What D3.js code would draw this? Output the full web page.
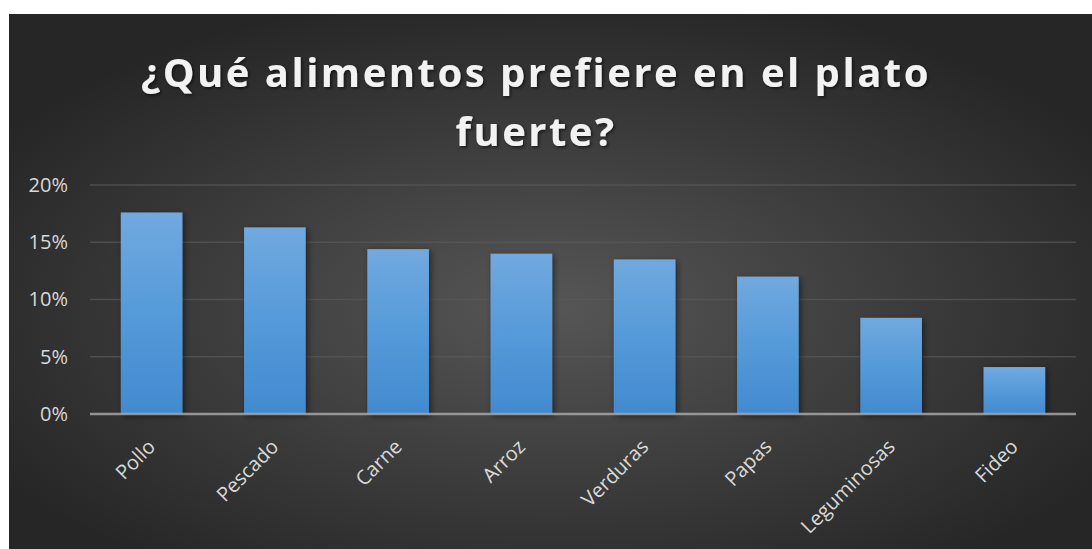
<!DOCTYPE html>
<html>
<head>
<meta charset="utf-8">
<script src="https://cdn.jsdelivr.net/npm/d3@7"></script>
<style>
  body { margin: 0; background: #fff; }
  svg { display: block; }
</style>
</head>
<body>
<div id="chart"></div>
<script>
var categories = ["Pollo", "Pescado", "Carne", "Arroz", "Verduras", "Papas", "Leguminosas", "Fideo"];
var values = [0.176, 0.163, 0.144, 0.140, 0.135, 0.120, 0.084, 0.041];
var yTicks = [0, 0.05, 0.10, 0.15, 0.20];
var titleLines = ["¿Qué alimentos prefiere en el plato", "fuerte?"];

var svgWidth = 1092;
var svgHeight = 549;

var margin = { top: 185, right: 16, bottom: 135, left: 90 };
var width = svgWidth - margin.left - margin.right;
var height = svgHeight - margin.top - margin.bottom;

var svg = d3.select("#chart")
  .append("svg")
  .attr("width", svgWidth)
  .attr("height", svgHeight);

var defs = svg.append("defs");

var bg = defs.append("radialGradient")
  .attr("id", "bg")
  .attr("cx", "50%").attr("cy", "55%").attr("r", "60%");
bg.append("stop").attr("offset", "0%").attr("stop-color", "#565656");
bg.append("stop").attr("offset", "100%").attr("stop-color", "#262626");

var barGrad = defs.append("linearGradient")
  .attr("id", "barGrad")
  .attr("x1", 0).attr("y1", 0).attr("x2", 0).attr("y2", 1);
barGrad.append("stop").attr("offset", "0%").attr("stop-color", "#71a9df");
barGrad.append("stop").attr("offset", "50%").attr("stop-color", "#559ad9");
barGrad.append("stop").attr("offset", "100%").attr("stop-color", "#428ad0");

var shadow = defs.append("filter").attr("id", "shadow")
  .attr("x", "-30%").attr("y", "-30%").attr("width", "160%").attr("height", "160%");
shadow.append("feDropShadow")
  .attr("dx", 2).attr("dy", 2).attr("stdDeviation", 3)
  .attr("flood-color", "#000").attr("flood-opacity", 0.5);

var textShadow = defs.append("filter").attr("id", "textShadow")
  .attr("x", "-10%").attr("y", "-30%").attr("width", "120%").attr("height", "160%");
textShadow.append("feDropShadow")
  .attr("dx", 1.5).attr("dy", 1.5).attr("stdDeviation", 1.5)
  .attr("flood-color", "#000").attr("flood-opacity", 0.6);

// background panel
svg.append("rect")
  .attr("x", 9).attr("y", 14)
  .attr("width", svgWidth - 9).attr("height", svgHeight - 14)
  .attr("fill", "url(#bg)");

// title
svg.append("text")
  .attr("x", 536)
  .attr("y", 87)
  .attr("text-anchor", "middle")
  .attr("font-family", "'Open Sans', sans-serif")
  .attr("font-weight", "bold")
  .attr("font-size", "40px")
  .attr("letter-spacing", "2.5px")
  .attr("fill", "#f2f2f2")
  .attr("filter", "url(#textShadow)")
  .selectAll("tspan")
  .data(titleLines)
  .enter()
  .append("tspan")
  .attr("x", 536)
  .attr("dy", (d, i) => i === 0 ? 0 : 59)
  .text(d => d);

var chartGroup = svg.append("g")
  .attr("transform", `translate(${margin.left}, ${margin.top})`);

var xBandScale = d3.scaleBand()
  .domain(categories)
  .range([0, width])
  .paddingInner(0.5)
  .paddingOuter(0.25);

var yLinearScale = d3.scaleLinear()
  .domain([0, 0.20])
  .range([height, 0]);

// gridlines
chartGroup.append("g")
  .selectAll("line")
  .data(yTicks.slice(1))
  .enter()
  .append("line")
  .attr("x1", 0)
  .attr("x2", width)
  .attr("y1", d => yLinearScale(d))
  .attr("y2", d => yLinearScale(d))
  .attr("stroke", "#5a5a5a")
  .attr("stroke-width", 1.5)
  .attr("stroke-opacity", 0.7);

// y axis labels
var leftAxis = d3.axisLeft(yLinearScale)
  .tickValues(yTicks)
  .tickFormat(d3.format(".0%"))
  .tickSize(0)
  .tickPadding(22);

var yAxis = chartGroup.append("g").call(leftAxis);
yAxis.select(".domain").remove();
yAxis.selectAll("text")
  .attr("font-family", "'Open Sans', sans-serif")
  .attr("font-size", "20px")
  .attr("fill", "#d9d9d9");

// bars
chartGroup.selectAll("rect.bar")
  .data(values)
  .enter()
  .append("rect")
  .attr("class", "bar")
  .attr("x", (d, i) => xBandScale(categories[i]))
  .attr("y", d => yLinearScale(d))
  .attr("width", xBandScale.bandwidth())
  .attr("height", d => height - yLinearScale(d))
  .attr("fill", "url(#barGrad)")
  .attr("filter", "url(#shadow)");

// baseline
chartGroup.append("line")
  .attr("x1", 0)
  .attr("x2", width)
  .attr("y1", height)
  .attr("y2", height)
  .attr("stroke", "#a6a6a6")
  .attr("stroke-opacity", 0.85)
  .attr("stroke-width", 2.5);

// x axis labels
var bottomAxis = d3.axisBottom(xBandScale).tickSize(0).tickPadding(0);
var xAxis = chartGroup.append("g")
  .attr("transform", `translate(0, ${height})`)
  .call(bottomAxis);
xAxis.select(".domain").remove();
xAxis.selectAll("text")
  .attr("font-family", "'Open Sans', sans-serif")
  .attr("font-size", "20px")
  .attr("fill", "#d9d9d9")
  .attr("text-anchor", "end")
  .attr("dy", 0)
  .attr("transform", "translate(5, 34) rotate(-45)");
</script>
</body>
</html>
